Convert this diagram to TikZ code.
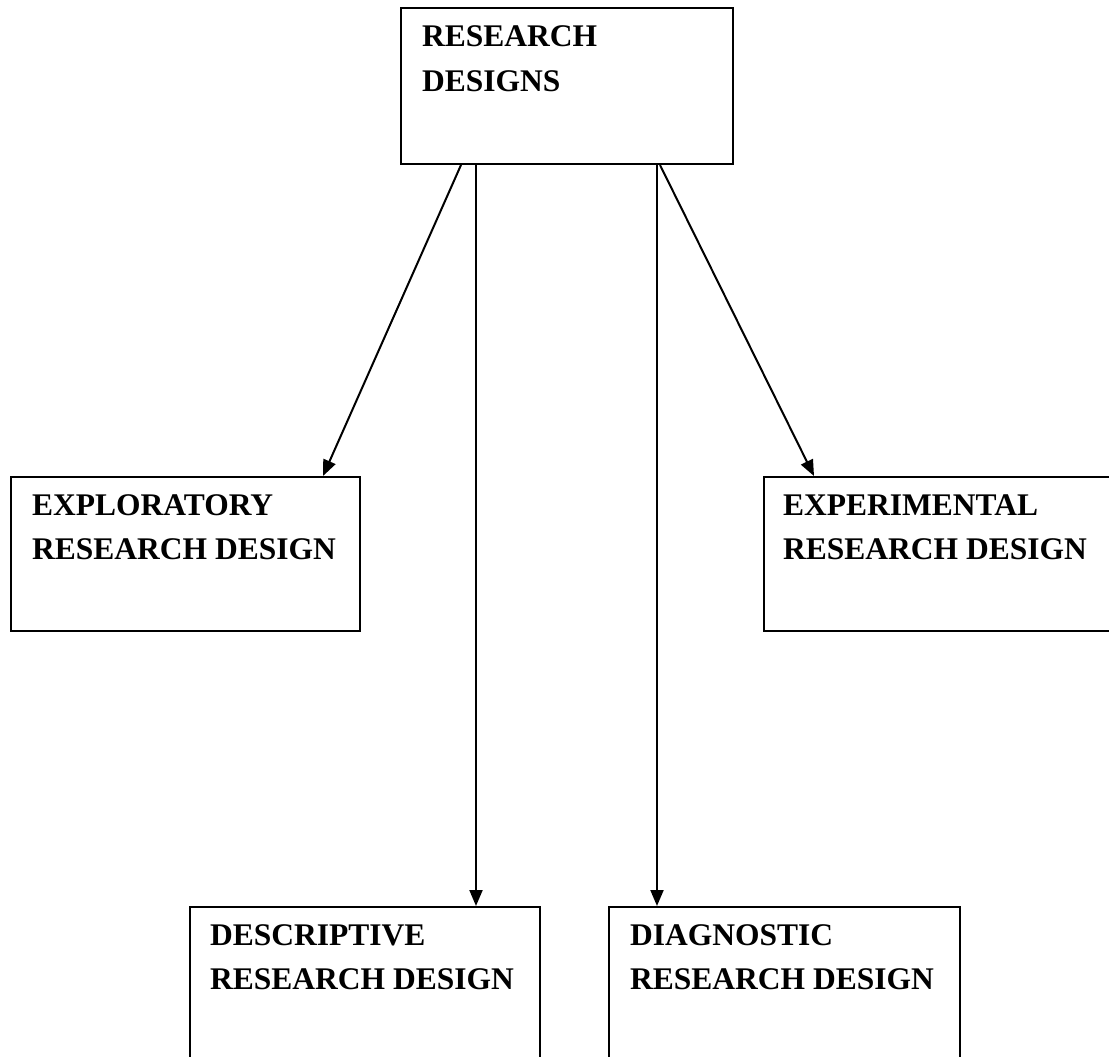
\documentclass[tikz,border=0pt]{standalone}
\usepackage{fontspec}
\setmainfont{Liberation Serif}
\usetikzlibrary{arrows.meta,calc}

\tikzset{
  box/.style={draw=black, line width=2pt, rectangle, inner sep=0pt, anchor=north west},
  % anchored at the baseline of the last line
  lbl/.style={font=\fontsize{31.5}{44}\selectfont\bfseries, align=left, inner sep=0pt, anchor=base west},
  link/.style={line width=2pt, -{Triangle[length=16pt,width=13pt]}}
}

\begin{document}
\begin{tikzpicture}[x=1pt,y=-1pt]
  \useasboundingbox (0,0) rectangle (1109,1057);
  \clip (0,0) rectangle (1109,1057);

  % boxes
  \node[box, minimum width=332pt, minimum height=156pt] (top)  at (400,7)   {};
  \node[box, minimum width=349pt, minimum height=154pt] (expl) at (10,476)  {};
  \node[box, minimum width=349pt, minimum height=154pt] (expe) at (763,476) {};
  \node[box, minimum width=350pt, minimum height=170pt] (desc) at (189,906) {};
  \node[box, minimum width=351pt, minimum height=170pt] (diag) at (608,906) {};

  % labels
  \node[lbl, font=\fontsize{31.5}{45}\selectfont\bfseries] (ttop) at ($(top.north west)+(22,85)$) {RESEARCH\\DESIGNS};
  \node[lbl] (texpl) at ($(expl.north west)+(22,83)$) {EXPLORATORY\\RESEARCH DESIGN};
  \node[lbl] (texpe) at ($(expe.north west)+(20,83)$) {EXPERIMENTAL\\RESEARCH DESIGN};
  \node[lbl] (tdesc) at ($(desc.north west)+(21,83)$) {DESCRIPTIVE\\RESEARCH DESIGN};
  \node[lbl] (tdiag) at ($(diag.north west)+(22,83)$) {DIAGNOSTIC\\RESEARCH DESIGN};

  % connectors
  \draw[link] ($(top.south west)+(61,0)$)  -- ($(expl.north west)+(313,0)$);
  \draw[link] ($(top.south west)+(76,0)$)  -- ($(desc.north west)+(287,0)$);
  \draw[link] ($(top.south west)+(257,0)$) -- ($(diag.north west)+(49,0)$);
  \draw[link] ($(top.south west)+(260,0)$) -- ($(expe.north west)+(51,0)$);
\end{tikzpicture}
\end{document}
